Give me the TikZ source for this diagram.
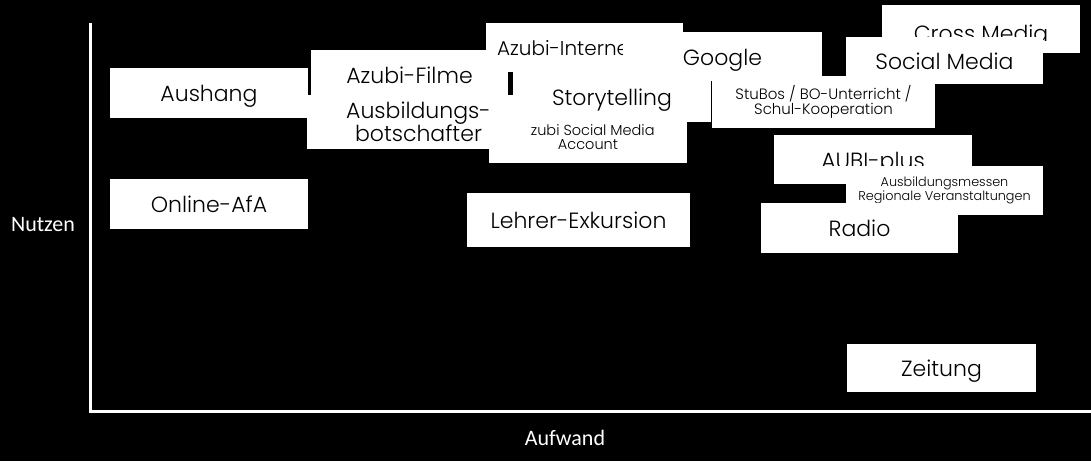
\documentclass[tikz,border=0pt]{standalone}
\usepackage{fontspec}
\setmainfont{Poppins}[UprightFont=* Light]
\newfontfamily\axisfont{Carlito}

\begin{document}
\begin{tikzpicture}[x=1pt,y=-1pt,
    box/.style={fill=white,text=black,inner sep=0pt,align=center,
                font=\fontsize{22}{23}\selectfont,text height=22pt,text depth=5pt},
    small/.style={font=\fontsize{#1}{14.5}\selectfont,text height=,text depth=},
    small/.default=13,
    axis/.style={white,line width=3pt,line join=miter},
    axlabel/.style={text=white,font=\axisfont\fontsize{22}{24}\selectfont}]
        % background
        \fill[black] (0,0) rectangle (1091,461);
        \useasboundingbox (0,0) rectangle (1091,461);
        % axes
        \coordinate (ytop) at (90.5,23);
        \coordinate (origin) at (90.5,411.8);
        \coordinate (xend) at (1091,411.8);
        \draw[axis] (ytop) -- (origin) -- (xend);
        \node[axlabel](nutzen) at (43,225){Nutzen};
        \node[axlabel](aufwand) at (565,438){Aufwand};
        % boxes, back to front
        \node[box,minimum width=198pt,minimum height=50pt](aushang) at (209,93){Aushang};
        \node[box,minimum width=198pt,minimum height=50pt](online) at (209,204){Online-AfA};
        \node[box,minimum width=197pt,minimum height=50pt](filme) at (409.5,75){Azubi-Filme};
        \node[box,font=\fontsize{20}{23}\selectfont,text height=20pt,minimum height=49pt,inner xsep=11pt,text width=175pt,align=left](internet) at (584.5,47.5){Azubi-Internet};
        \node[box,minimum width=199pt,minimum height=49pt](google) at (722.5,56.5){Google};
        \node[box,minimum width=198pt,minimum height=50pt](story) at (612,97){Storytelling};
        \node[box,small=14.5,minimum width=198pt,minimum height=52pt](account) at (588,137){Azubi Social Media\\Account};
        \node[box,minimum width=223pt,minimum height=54pt,text height=,text depth=](botschafter) at (418.5,122){Ausbildungs-\\botschafter};
        \node[box,small=15,minimum width=223pt,minimum height=52pt](stubos) at (823.5,102){StuBos / BO-Unterricht /\\Schul-Kooperation};
        \node[box,minimum width=198pt,minimum height=48pt,text height=29pt](cross) at (981,29){Cross Media};
        \node[box,minimum width=197pt,minimum height=47pt](socialmedia) at (944.5,60.5){Social Media};
        \fill[white] (774,135) rectangle (972,184);
        \begin{scope}
            \clip (774,135) rectangle (972,165);
            \node[box,minimum width=198pt,minimum height=49pt](aubi) at (873,159.5){AUBI-plus};
        \end{scope}
        \node[box,small=12.8,minimum width=197pt,minimum height=49pt](messen) at (944.5,190.5){Ausbildungsmessen\\Regionale Veranstaltungen};
        \node[box,minimum width=197pt,minimum height=50pt](radio) at (859.5,228){Radio};
        \node[box,minimum width=223pt,minimum height=54pt](lehrer) at (578.5,220){Lehrer-Exkursion};
        \node[box,minimum width=189pt,minimum height=48pt](zeitung) at (941.5,368){Zeitung};
\end{tikzpicture}
\end{document}
